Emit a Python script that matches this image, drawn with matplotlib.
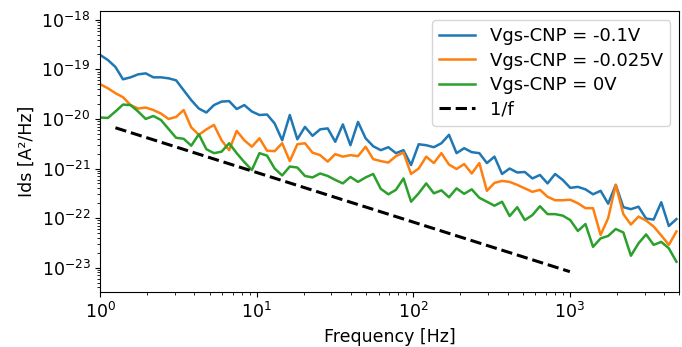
import numpy as np
import matplotlib
matplotlib.use("Agg")
import matplotlib.pyplot as plt

plt.rcParams['font.size'] = 12.5

# frequency bins [Hz]
freq = [1.00, 1.118, 1.250, 1.397, 1.562, 1.746, 1.953, 2.183, 2.440, 2.729,
        3.051, 3.410, 3.813, 4.263, 4.764, 5.327, 5.955, 6.658, 7.442, 8.322,
        9.303, 10.40, 11.63, 13.00, 14.53, 16.25, 18.16, 20.31, 22.70, 25.38,
        28.38, 31.72, 35.47, 39.65, 44.33, 49.56, 55.41, 61.94, 69.24, 77.42,
        86.56, 96.74, 108.2, 120.9, 135.2, 151.1, 169.0, 188.9, 211.2, 236.1,
        264.0, 295.1, 329.9, 368.8, 412.4, 461.1, 515.3, 576.3, 644.2, 720.2,
        805.2, 900.0, 1006, 1125, 1258, 1406, 1572, 1757, 1964, 2196,
        2455, 2745, 3069, 3431, 3836, 4289, 4795]

# log10 of the noise PSD [A^2/Hz]
psd_m01 = [-18.71, -18.81, -18.95, -19.20, -19.16, -19.10, -19.08, -19.16, -19.16, -19.18,
           -19.22, -19.42, -19.62, -19.79, -19.87, -19.72, -19.65, -19.64, -19.80, -19.72,
           -19.85, -19.92, -19.91, -20.09, -20.43, -19.92, -20.41, -20.16, -20.34, -20.21,
           -20.19, -20.46, -20.11, -20.53, -20.06, -20.39, -20.55, -20.63, -20.57, -20.69,
           -20.63, -20.93, -20.51, -20.53, -20.57, -20.49, -20.32, -20.69, -20.59, -20.67,
           -20.69, -20.89, -20.76, -21.11, -21.00, -21.08, -21.07, -21.20, -21.13, -21.30,
           -21.11, -21.23, -21.39, -21.37, -21.42, -21.52, -21.45, -21.71, -21.33, -21.78,
           -21.82, -21.77, -22.01, -22.03, -21.68, -22.16, -22.02]

psd_m0025 = [-19.30, -19.38, -19.48, -19.56, -19.72, -19.79, -19.77, -19.82, -19.89, -20.00,
             -19.96, -19.82, -20.17, -20.32, -20.21, -20.12, -20.43, -20.63, -20.24, -20.43,
             -20.56, -20.39, -20.64, -20.65, -20.49, -20.85, -20.51, -20.49, -20.68, -20.73,
             -20.86, -20.71, -20.76, -20.73, -20.75, -20.56, -20.81, -20.85, -20.88, -20.75,
             -20.68, -21.11, -21.00, -20.76, -20.89, -20.69, -20.92, -21.01, -20.91, -21.10,
             -20.89, -21.45, -21.29, -21.25, -21.27, -21.33, -21.40, -21.47, -21.43, -21.57,
             -21.64, -21.64, -21.63, -21.70, -21.80, -21.80, -22.34, -22.00, -21.33, -21.92,
             -22.13, -21.97, -22.05, -22.17, -22.35, -22.54, -22.27]

psd_0 = [-19.97, -19.98, -19.85, -19.71, -19.72, -19.85, -20.00, -19.94, -20.02, -20.20,
         -20.38, -20.40, -20.54, -20.31, -20.61, -20.69, -20.66, -20.49, -20.69, -20.87,
         -21.03, -20.69, -20.74, -21.00, -21.14, -20.96, -20.98, -21.15, -21.18, -21.10,
         -21.15, -21.23, -21.30, -21.17, -21.27, -21.18, -21.11, -21.41, -21.52, -21.43,
         -21.20, -21.67, -21.50, -21.30, -21.50, -21.44, -21.58, -21.40, -21.51, -21.42,
         -21.59, -21.67, -21.75, -21.67, -21.96, -21.78, -22.04, -21.94, -21.76, -21.92,
         -21.92, -21.95, -22.04, -22.26, -22.12, -22.58, -22.41, -22.36, -22.22, -22.29,
         -22.76, -22.51, -22.33, -22.54, -22.48, -22.61, -22.88]

labels = ['Vgs-CNP = -0.1V', 'Vgs-CNP = -0.025V', 'Vgs-CNP = 0V']

# 1/f reference line
f_ref = np.array([1.25, 1000])
a_ref = 8.3e-21

fig = plt.figure(figsize=(6.82, 3.47), dpi=100)
ax = fig.add_axes([0.147, 0.158, 0.849, 0.81])

for vals, lab in zip([psd_m01, psd_m0025, psd_0], labels):
    ax.plot(freq, 10 ** np.array(vals), lw=1.8, label=lab)
ax.plot(f_ref, a_ref / f_ref, 'k--', lw=2.2, label='1/f')

ax.set_xscale('log')
ax.set_yscale('log')
ax.set_xlim(1, 5000)
ax.set_ylim(3.2e-24, 1.5e-18)
ax.set_xticks([1, 10, 100, 1000])
ax.set_yticks([1e-23, 1e-22, 1e-21, 1e-20, 1e-19, 1e-18])
ax.set_xlabel('Frequency [Hz]')
ax.set_ylabel('Ids [A²/Hz]')
ax.legend(loc='upper right', fontsize=13, labelspacing=0.35)

fig.savefig('out.png', dpi=100)
